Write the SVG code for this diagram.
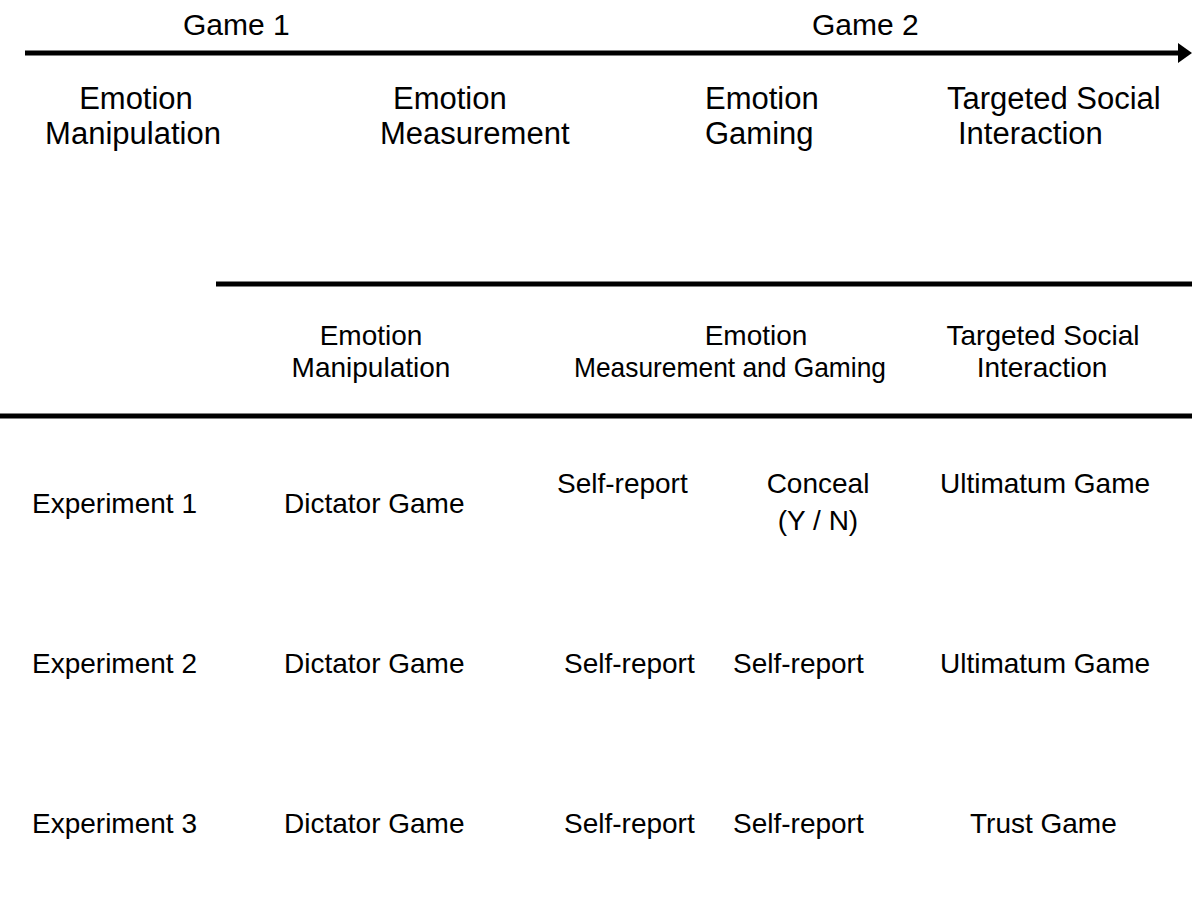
<svg xmlns="http://www.w3.org/2000/svg" width="1192" height="902" viewBox="0 0 1192 902">
<style>
text { font-family: "Liberation Sans", Arial, sans-serif; fill: #000; }
.g { font-size: 30px; }
.h1 { font-size: 31px; }
.h2 { font-size: 28px; }
.r { font-size: 28px; }
.rule { stroke: #000; stroke-width: 5; fill: none; }
</style>
<defs>
<marker id="ah" markerUnits="userSpaceOnUse" markerWidth="14" markerHeight="20" refX="0" refY="10" orient="auto">
<path d="M0,0 L14,10 L0,20 Z" fill="#000"/>
</marker>
</defs>
<rect width="1192" height="902" fill="#fff"/>
<g id="connectors">
<line class="rule" x1="25" y1="53" x2="1178" y2="53" marker-end="url(#ah)"/>
<line class="rule" x1="216" y1="284" x2="1192" y2="284"/>
<line class="rule" x1="0" y1="416" x2="1192" y2="416"/>
</g>
<g id="game1"><text class="g" x="183" y="35">Game 1</text></g>
<g id="game2"><text class="g" x="812" y="35">Game 2</text></g>
<g id="top-manipulation"><text class="h1" x="136" y="109" text-anchor="middle">Emotion</text><text class="h1" x="133" y="144" text-anchor="middle">Manipulation</text></g>
<g id="top-measurement"><text class="h1" x="393" y="109">Emotion</text><text class="h1" x="380" y="144">Measurement</text></g>
<g id="top-gaming"><text class="h1" x="705" y="109">Emotion</text><text class="h1" x="705" y="144">Gaming</text></g>
<g id="top-social"><text class="h1" x="947" y="109">Targeted Social</text><text class="h1" x="958" y="144">Interaction</text></g>
<g id="sub-manipulation"><text class="h2" x="371" y="345" text-anchor="middle">Emotion</text><text class="h2" x="371" y="377" text-anchor="middle">Manipulation</text></g>
<g id="sub-measurement"><text class="h2" x="756" y="345" text-anchor="middle">Emotion</text><text class="h2" x="574" y="377" textLength="312" lengthAdjust="spacingAndGlyphs">Measurement and Gaming</text></g>
<g id="sub-social"><text class="h2" x="1043" y="345" text-anchor="middle">Targeted Social</text><text class="h2" x="1042" y="377" text-anchor="middle">Interaction</text></g>
<g id="exp1">
<text class="r" x="32" y="513">Experiment 1</text>
<text class="r" x="284" y="513">Dictator Game</text>
<text class="r" x="557" y="493">Self-report</text>
<text class="r" x="818" y="493" text-anchor="middle">Conceal</text>
<text class="r" x="818" y="530" text-anchor="middle">(Y / N)</text>
<text class="r" x="940" y="493">Ultimatum Game</text>
</g>
<g id="exp2">
<text class="r" x="32" y="673">Experiment 2</text>
<text class="r" x="284" y="673">Dictator Game</text>
<text class="r" x="564" y="673">Self-report</text>
<text class="r" x="733" y="673">Self-report</text>
<text class="r" x="940" y="673">Ultimatum Game</text>
</g>
<g id="exp3">
<text class="r" x="32" y="833">Experiment 3</text>
<text class="r" x="284" y="833">Dictator Game</text>
<text class="r" x="564" y="833">Self-report</text>
<text class="r" x="733" y="833">Self-report</text>
<text class="r" x="970" y="833">Trust Game</text>
</g>
</svg>
